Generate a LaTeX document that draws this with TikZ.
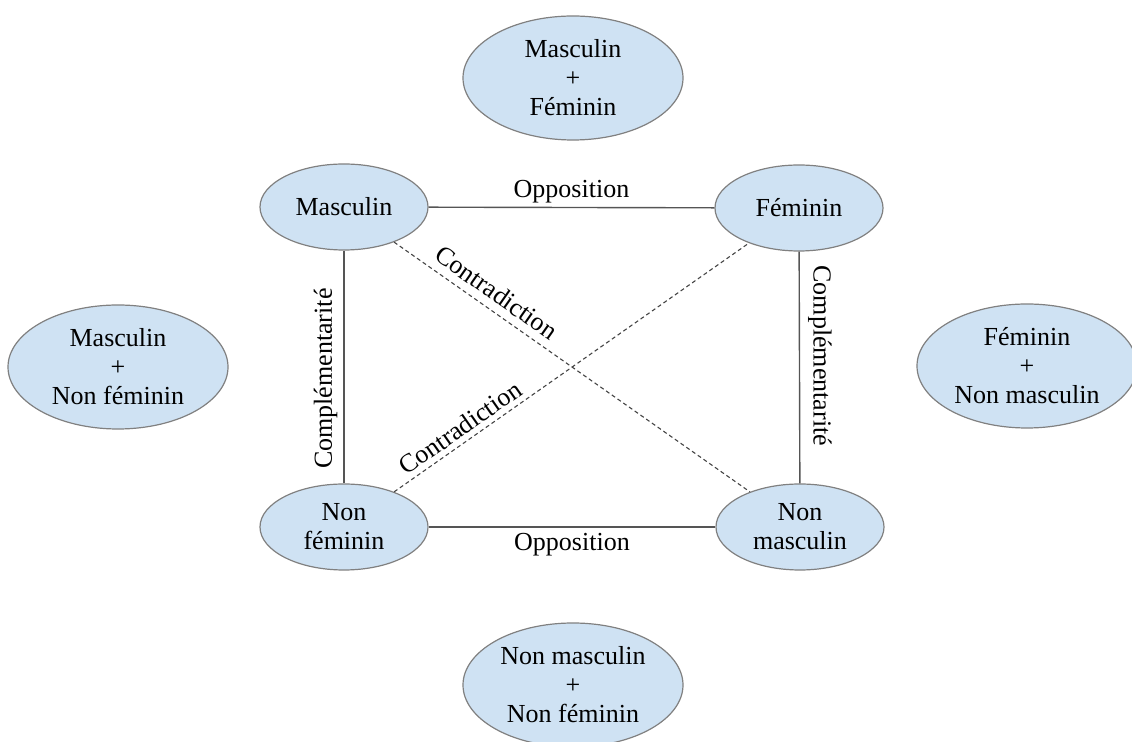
\documentclass[tikz,border=0pt]{standalone}
\usepackage{fontspec}
\setmainfont{Liberation Serif}
\usetikzlibrary{shapes.geometric}
\definecolor{ovalfill}{RGB}{207,226,243}
\definecolor{ovaldraw}{RGB}{128,128,128}
\definecolor{linkgray}{RGB}{85,85,85}
\tikzset{
	concept/.style={ellipse, draw=ovaldraw, fill=ovalfill, line width=.6pt,
		inner sep=0pt, align=center, minimum width=84pt, minimum height=43pt},
	bigconcept/.style={concept, minimum width=110pt, minimum height=62pt}
}
\tikzset{
	link/.style={draw=linkgray, line width=.7pt},
	contra/.style={draw=linkgray!80!black, line width=.55pt, dash pattern=on 2pt off 1.5pt}
}

\begin{document}
\begin{tikzpicture}[x=.5pt,y=-.5pt,font=\fontsize{13}{14.5}\selectfont]
\useasboundingbox (0,0) rectangle (1132,742);

%square corners
\node[concept] (masc) at (344,207) {Masculin};
\node[concept] (fem) at (799,208) {Féminin};
\node[concept] (nonfem) at (344,527) {Non\\féminin};
\node[concept] (nonmasc) at (800,527) {Non\\masculin};

%combinations
\node[bigconcept] (mascfem) at (573,78) {Masculin\\+\\Féminin};
\node[bigconcept] (mascnonfem) at (118,367) {Masculin\\+\\Non féminin};
\node[bigconcept] (femnonmasc) at (1027,366) {Féminin\\+\\Non masculin};
\node[bigconcept] (nonnon) at (573,685) {Non masculin\\+\\Non féminin};

% opposition
\draw[link] (masc) -- node[midway, above, inner sep=2pt] {Opposition} (fem);
\draw[link] (nonfem) -- node[midway, below, inner sep=3pt] {Opposition} (nonmasc);

% complementarity
\draw[link] (masc) -- node[pos=.55, rotate=90, above, inner sep=3pt] {Complémentarité} (nonfem);
\draw[link] (fem) -- node[pos=.45, rotate=-90, above, inner sep=4pt] {Complémentarité} (nonmasc);

% contradiction
\draw[contra] (masc) -- node[pos=.26, sloped, above, inner sep=4pt] {Contradiction} (nonmasc);
\draw[contra] (nonfem) -- node[pos=.21, sloped, above, inner sep=2.5pt] {Contradiction} (fem);

\end{tikzpicture}
\end{document}
